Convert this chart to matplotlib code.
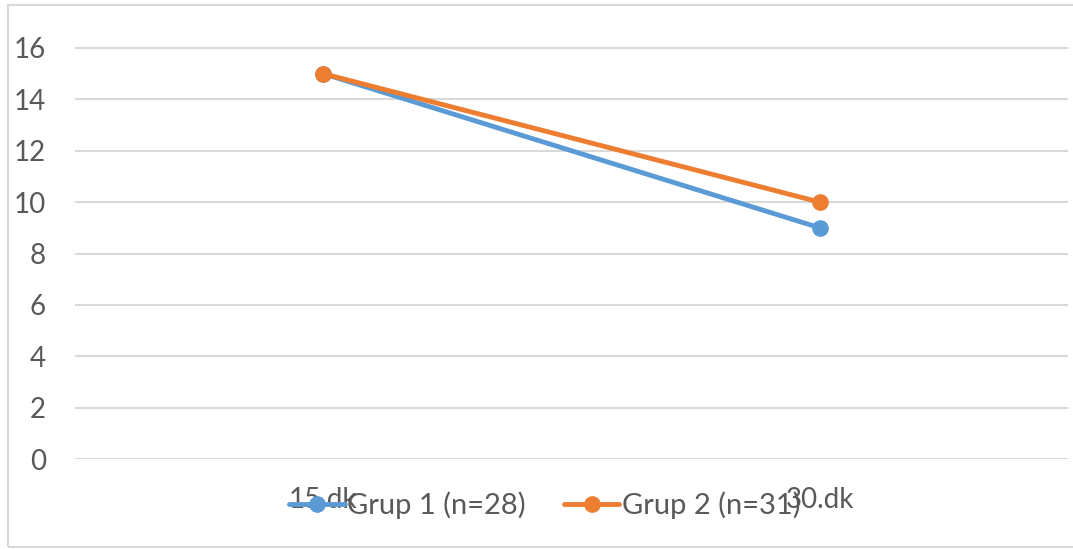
import matplotlib.pyplot as plt
from matplotlib.patches import Rectangle

# data
categories = ['15.dk', '30.dk']
grup1 = [15, 9]
grup2 = [15, 10]
series_names = ['Grup 1 (n=28)', 'Grup 2 (n=31)']
yticks = [0, 2, 4, 6, 8, 10, 12, 14, 16]

plt.rcParams['font.family'] = ['Lato', 'DejaVu Sans']
txt = '#595959'
fs = 20

fig = plt.figure(figsize=(10.73, 5.49), dpi=100)
W, H = 1073, 549
# plot area in pixels: x 75..1068, y(0)=459, y(16)=48
y0, y16 = 459, 48
ppu = (y0 - y16) / 16.0
ymax = 17.5
top_px = y0 - ymax * ppu
ax = fig.add_axes([75 / W, 1 - y0 / H, (1068 - 75) / W, (y0 - top_px) / H])

x = list(range(len(categories)))
ax.plot(x, grup1, color='#5B9BD5', lw=3.5, marker='o', ms=11, label=series_names[0],
        solid_capstyle='round', zorder=3)
ax.plot(x, grup2, color='#ED7D31', lw=3.5, marker='o', ms=11, label=series_names[1],
        solid_capstyle='round', zorder=4)

ax.set_xlim(-0.5, 1.5)
ax.set_ylim(0, ymax)
ax.set_yticks(yticks)
ax.set_xticks(x)
ax.set_xticklabels(categories)
ax.grid(axis='y', color='#D9D9D9', lw=1.5)
ax.set_axisbelow(True)
for s in ax.spines.values():
    s.set_visible(False)
ax.tick_params(length=0, labelsize=fs, labelcolor=txt)
ax.tick_params(axis='y', pad=21)
ax.tick_params(axis='x', pad=20)

# legend sits over the x labels, like in the original
fig.legend(loc='center', bbox_to_anchor=(545 / W, 1 - 505 / H), ncol=2, frameon=False,
           fontsize=21, labelcolor=txt, handlelength=1.9, handletextpad=0.1,
           columnspacing=1.3)

# outer chart border
fig.patches.append(Rectangle((8 / W, 1 - 547 / H), 1.2, (547 - 5) / H,
                             transform=fig.transFigure, fill=False,
                             edgecolor='#D9D9D9', lw=1.5))

fig.savefig('out.png', dpi=100)
